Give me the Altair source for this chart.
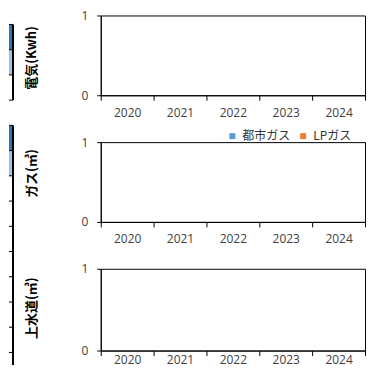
import altair as alt
import pandas as pd

# ---- data ----
years = ["2020", "2021", "2022", "2023", "2024"]
elec_values = [None, None, None, None, None]          # 電気 (no data plotted)
city_gas_values = [None, None, None, None, None]      # 都市ガス
lp_gas_values = [None, None, None, None, None]        # LPガス
water_values = [None, None, None, None, None]         # 上水道
gas_series = ["都市ガス", "LPガス"]
gas_colors = ["#5B9BD5", "#ED7D31"]

# table fragment on the left edge (rows of the adjoining worksheet table)
table_rows = ["header", "sub", "value", "blank", "header", "sub",
              "dash", "dash", "dash", "dash", "dash", "dash", "dash", "dash"]
header_fill = "#2E75B6"
sub_fill = "#9DC3E6"

# ---- frames ----
elec_df = pd.DataFrame({"year": years, "value": elec_values})
gas_df = pd.DataFrame({
    "year": years * 2,
    "series": [gas_series[0]] * 5 + [gas_series[1]] * 5,
    "value": city_gas_values + lp_gas_values,
})
water_df = pd.DataFrame({"year": years, "value": water_values})

rows_df = pd.DataFrame({"row": list(range(len(table_rows))), "kind": table_rows})
rows_df["row_end"] = rows_df["row"] + 1
header_df = rows_df[rows_df["kind"] == "header"]
sub_df = rows_df[rows_df["kind"] == "sub"]
hlines_df = pd.DataFrame({"y": [0, 1, 2, 3] + list(range(4, 14))})
vlines_df = pd.DataFrame({"y": [0, 4], "y2": [3, 13.5]})

LABEL_FONT = "Open Sans"
JP_FONT = "Noto Sans CJK JP"
PLOT_W = 265

# table rows hang from the first panel, drawn left of its plot area
ROW_SCALE = alt.Scale(domain=[0, 14], range=[9, 363.2], nice=False, zero=False)
STRIP_X0, STRIP_X1 = -92, -88


def cell_layer(df, fill):
    return alt.Chart(df).mark_rect(strokeWidth=0, color=fill).encode(
        x=alt.value(STRIP_X0), x2=alt.value(STRIP_X1),
        y=alt.Y("row:Q", scale=ROW_SCALE, axis=None),
        y2="row_end:Q",
    )


hlines = alt.Chart(hlines_df).mark_rule(color="#000", strokeWidth=1).encode(
    x=alt.value(STRIP_X0), x2=alt.value(STRIP_X1),
    y=alt.Y("y:Q", scale=ROW_SCALE, axis=None),
)
vlines = alt.Chart(vlines_df).mark_rule(color="#000", strokeWidth=2).encode(
    x=alt.value(STRIP_X1),
    y=alt.Y("y:Q", scale=ROW_SCALE, axis=None),
    y2="y2:Q",
)


def x_enc(baseline="top", pad=7):
    return alt.X(
        "year:N",
        scale=alt.Scale(domain=years, paddingInner=0, paddingOuter=0),
        axis=alt.Axis(
            title=None, labelAngle=0, tickBand="extent", tickSize=5,
            labelPadding=pad, labelBaseline=baseline,
            labelFont=LABEL_FONT, labelFontSize=12,
            labelColor="#404040", domainColor="#000", tickColor="#000",
            grid=False,
        ),
    )


def y_enc(title, title_y):
    return alt.Y(
        "value:Q",
        scale=alt.Scale(domain=[0, 1], nice=False),
        axis=alt.Axis(
            values=[0, 1], format="d", ticks=True, tickSize=4, labelPadding=9,
            labelAlign="right", labelBaseline="middle",
            labelFont=LABEL_FONT, labelFontSize=12, labelColor="#404040",
            domainColor="#000", tickColor="#000", grid=False,
            title=title, titleFont=JP_FONT, titleFontWeight="bold",
            titleFontSize=13, titleColor="#000", titleAngle=270,
            titleX=-69, titleY=title_y, titleAlign="center",
            titleBaseline="middle",
        ),
    )


p1_bars = alt.Chart(elec_df).mark_bar(color="#5B9BD5").encode(
    x=x_enc(), y=y_enc("電気(Kwh)", 42)
)
strip_layers = [cell_layer(header_df, header_fill), cell_layer(sub_df, sub_fill),
                hlines, vlines]
p1 = alt.layer(*strip_layers, p1_bars).resolve_scale(y="independent").properties(
    width=PLOT_W, height=80)

p2 = alt.Chart(gas_df).mark_bar().encode(
    x=x_enc(), y=y_enc("ガス(㎥)", 31),
    color=alt.Color(
        "series:N",
        scale=alt.Scale(domain=gas_series, range=gas_colors),
        legend=alt.Legend(
            title=None, orient="none", legendX=126, legendY=-12,
            direction="horizontal", symbolType="square", symbolSize=36,
            symbolStrokeWidth=0, labelFont=JP_FONT, labelFontSize=12,
            labelColor="#333333", labelOffset=4, columnPadding=6,
            padding=0,
        ),
    ),
).properties(width=PLOT_W, height=80)

p3 = alt.Chart(water_df).mark_bar(color="#5B9BD5").encode(
    x=x_enc("alphabetic", 8), y=y_enc("上水道(㎥)", 39)
).properties(width=PLOT_W, height=82)

chart = alt.vconcat(
    p1, p2, p3, spacing=47, bounds="flush", padding=0,
).resolve_scale(color="independent").resolve_legend(color="independent").configure_view(
    stroke="#000", strokeWidth=1
)

chart.save("out.html", embed_options={"renderer": "svg", "actions": False})
